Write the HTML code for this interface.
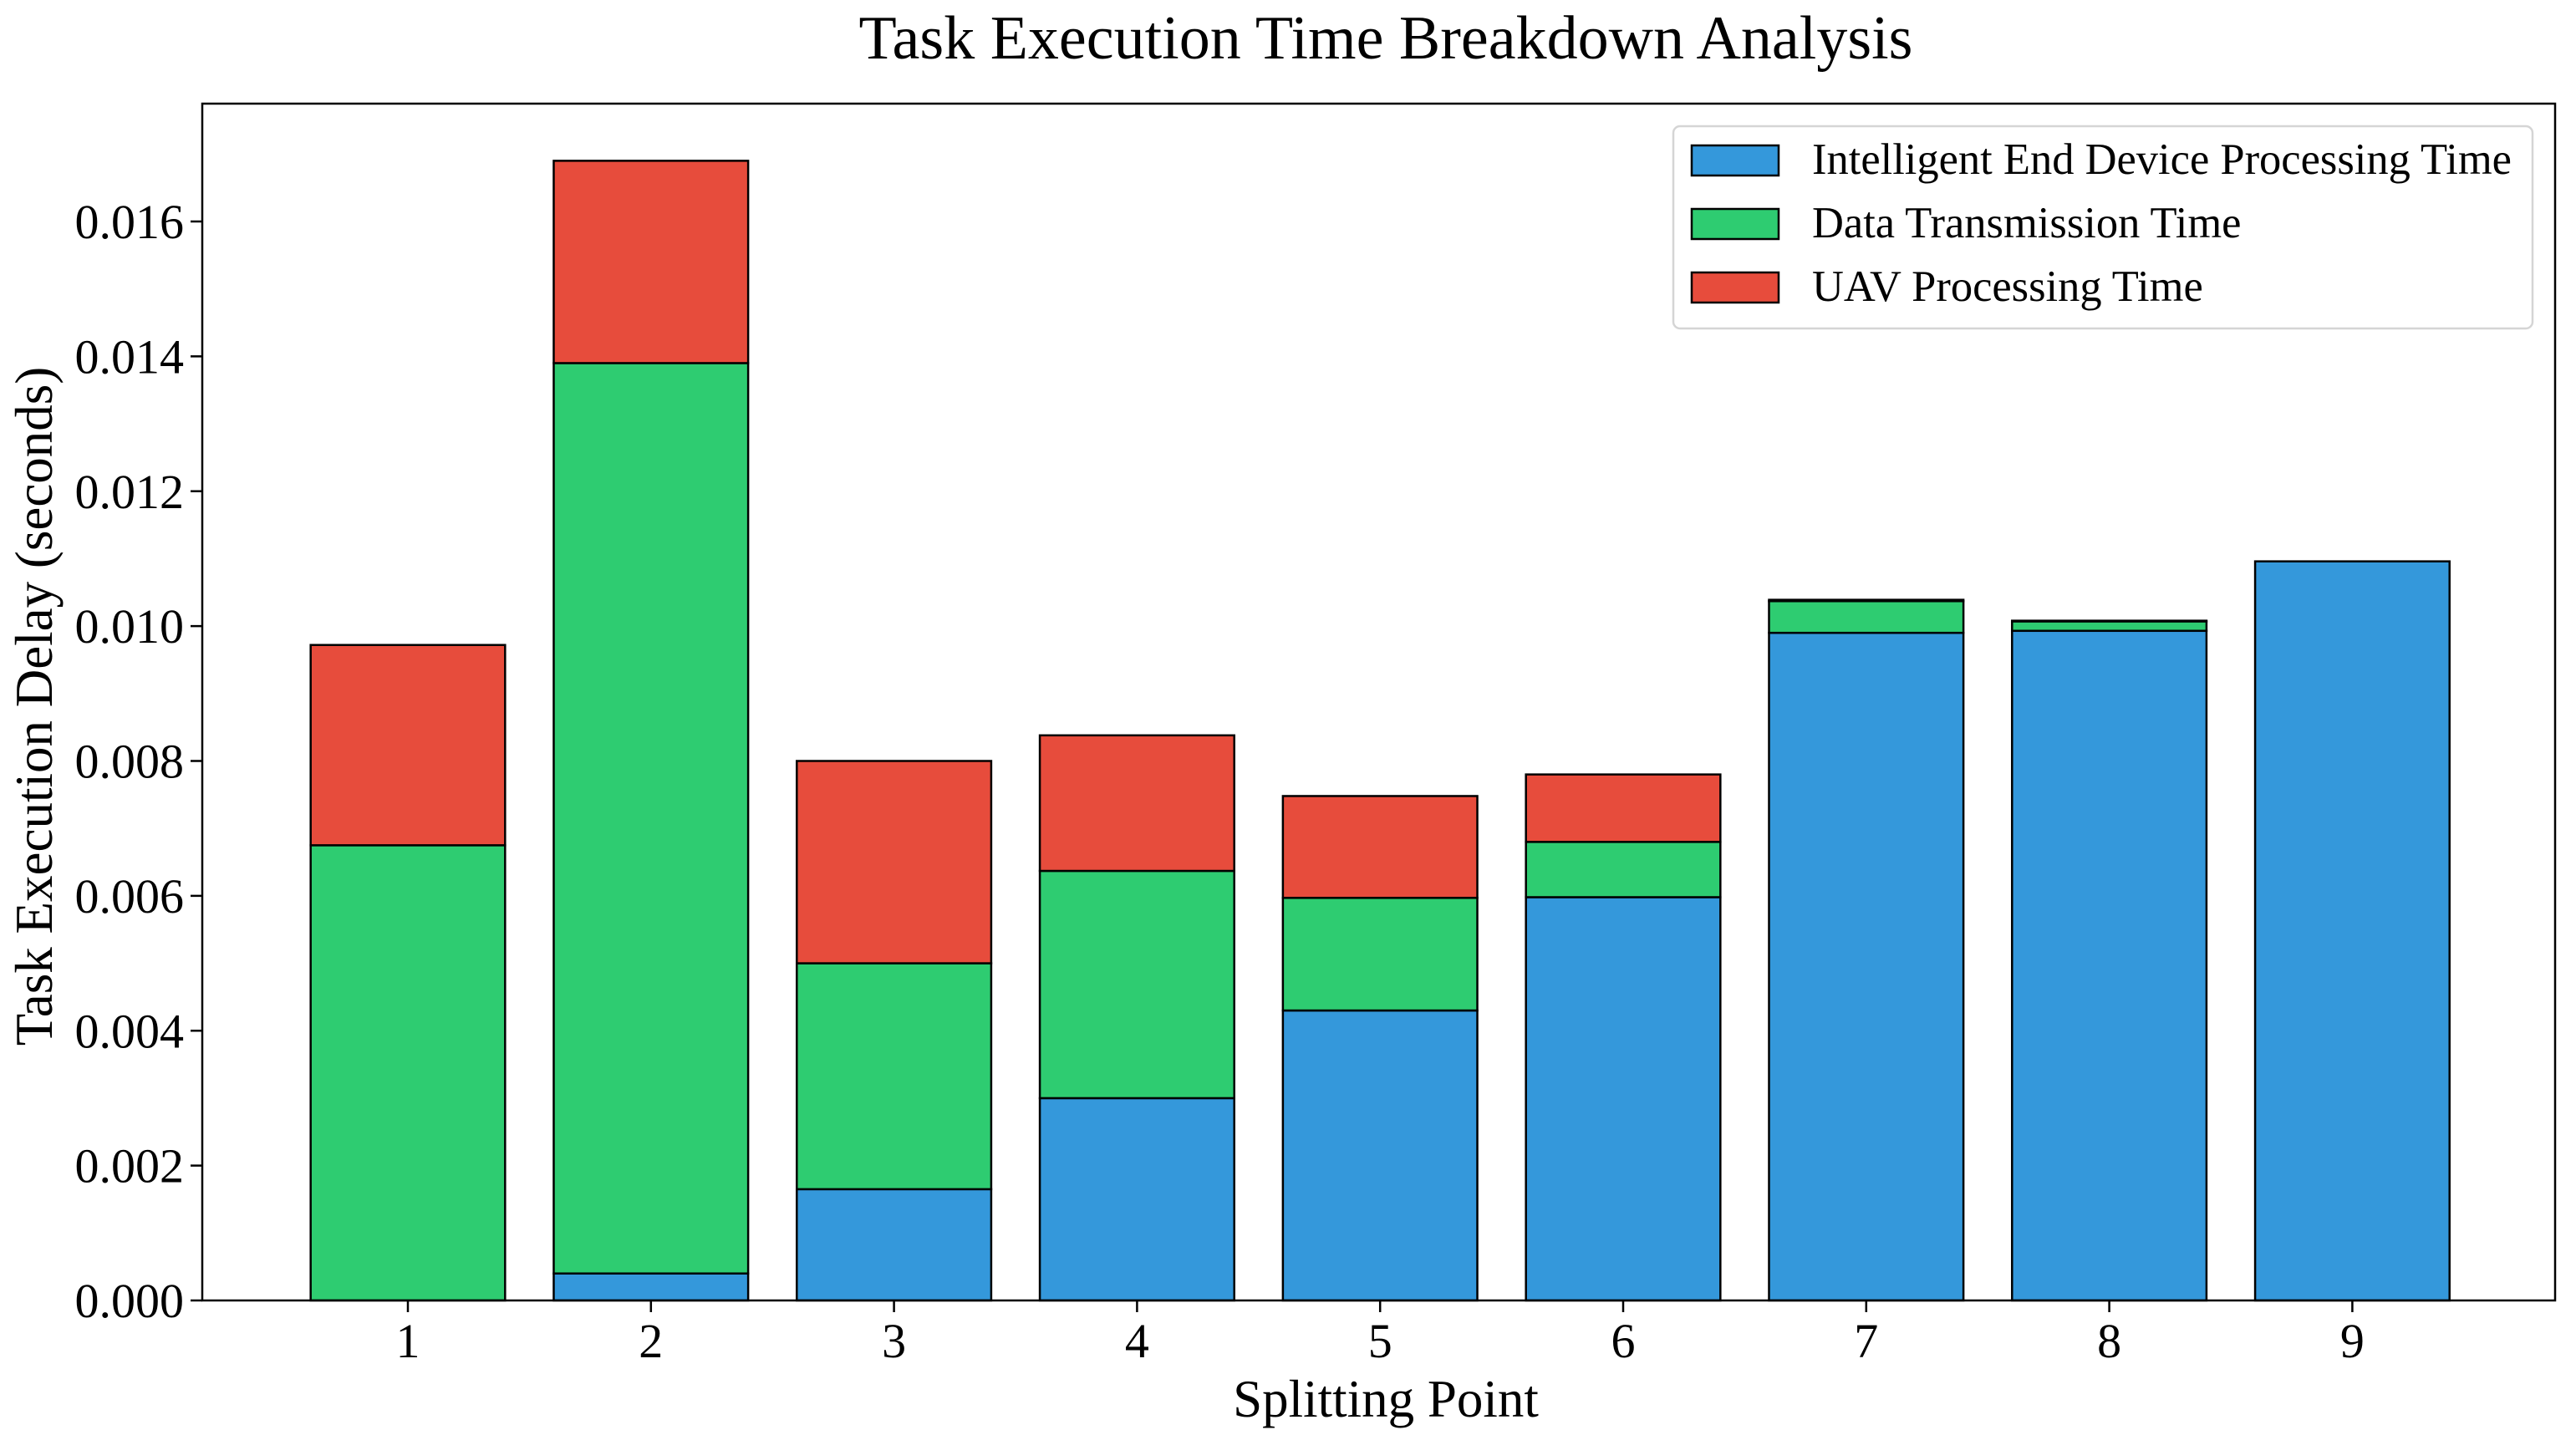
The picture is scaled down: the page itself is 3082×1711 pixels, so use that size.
<!DOCTYPE html>
<html><head><meta charset="utf-8"><style>
body{margin:0;background:#fff;}
svg{display:block;font-family:"Liberation Serif",serif;}
</style></head><body>
<svg id="chart" width="3082" height="1711" viewBox="0 0 3082 1711">
<text x="1658" y="70" text-anchor="middle" font-size="74">Task Execution Time Breakdown Analysis</text>
<g id="plot"></g>
<text x="1658" y="1695" text-anchor="middle" font-size="63">Splitting Point</text>
<text transform="translate(62,845) rotate(-90)" text-anchor="middle" font-size="63">Task Execution Delay (seconds)</text>
<g>
<rect x="2002" y="151" width="1028" height="242" rx="8" fill="#fff" stroke="#d5d5d5" stroke-width="2.5"/>
<g><rect x="2024" y="174" width="104" height="36" fill="#3498db" stroke="#000" stroke-width="2.5"/><text x="2168" y="208" font-size="52.5">Intelligent End Device Processing Time</text></g>
<g><rect x="2024" y="250" width="104" height="36" fill="#2ecc71" stroke="#000" stroke-width="2.5"/><text x="2168" y="284" font-size="52.5">Data Transmission Time</text></g>
<g><rect x="2024" y="326" width="104" height="36" fill="#e74c3c" stroke="#000" stroke-width="2.5"/><text x="2168" y="360" font-size="52.5">UAV Processing Time</text></g>
</g>
</svg>
<script>
const categories = ["1","2","3","4","5","6","7","8","9"];
const deviceTime = [0, 0.0004, 0.00165, 0.0030, 0.0043, 0.00598, 0.0099, 0.00993, 0.01096];
const transmissionTime = [0.00675, 0.0135, 0.00335, 0.00337, 0.00167, 0.00082, 0.00047, 0.00014, 0];
const uavTime = [0.00297, 0.0030, 0.0030, 0.00201, 0.00151, 0.001, 0.00002, 0.00001, 0];
const yTicks = [0, 0.002, 0.004, 0.006, 0.008, 0.010, 0.012, 0.014, 0.016];
const yTickLabels = ["0.000","0.002","0.004","0.006","0.008","0.010","0.012","0.014","0.016"];

const NS = "http://www.w3.org/2000/svg";
const L = 242, R = 3057, T = 124, B = 1556;
const yPerUnit = (1556 - 265) / 0.016;
function y(v){ return B - v * yPerUnit; }
const step = 290.8, x0 = 488;
function xc(i){ return x0 + i * step; }
const bw = step * 0.8;
const plot = document.getElementById('plot');
function mk(tag, attrs){ const e = document.createElementNS(NS, tag); for (const k in attrs) e.setAttribute(k, attrs[k]); plot.appendChild(e); return e; }

const series = [[deviceTime, "#3498db", "device"], [transmissionTime, "#2ecc71", "transmission"], [uavTime, "#e74c3c", "uav"]];
categories.forEach((c, i) => {
  let base = 0;
  series.forEach(([arr, col, nm]) => {
    const v = arr[i];
    const r = mk('rect', {x: xc(i) - bw/2, y: y(base + v), width: bw, height: Math.max(0, y(base) - y(base + v)), fill: col, stroke: "#000", "stroke-width": 2.5});
    
    
    base += v;
  });
  const tk = mk('line', {x1: xc(i), x2: xc(i), y1: B, y2: B + 14, stroke: "#000", "stroke-width": 2.5});
  
  
  const t = mk('text', {x: xc(i), y: B + 68, "text-anchor": "middle", "font-size": 58});
  t.textContent = c;
  
  
});
yTicks.forEach((v, i) => {
  const tk = mk('line', {x1: L - 14, x2: L, y1: y(v), y2: y(v), stroke: "#000", "stroke-width": 2.5});
  
  
  const t = mk('text', {x: L - 22, y: y(v) + 20, "text-anchor": "end", "font-size": 58});
  t.textContent = yTickLabels[i];
  
  
});
const frame = mk('rect', {x: L, y: T, width: R - L, height: B - T, fill: "none", stroke: "#000", "stroke-width": 2.5});


</script>
</body></html>
